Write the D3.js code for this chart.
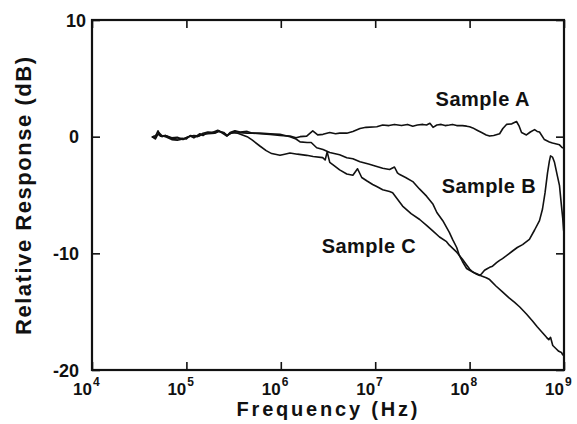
<!DOCTYPE html>
<html>
<head>
<meta charset="utf-8">
<script src="https://cdn.jsdelivr.net/npm/d3@7/dist/d3.min.js"></script>
<style>
  html, body { margin: 0; padding: 0; background: #fff; }
  svg { display: block; }
  text { font-family: "Liberation Sans", Arial, Helvetica, sans-serif; font-weight: bold; fill: #111; }
</style>
</head>
<body>
<svg id="chart" width="577" height="424"></svg>
<script>
// ---- data (frequency in Hz, relative response in dB) ----
const sampleA = [[4.3e4,0.0],[4.6e4,-0.15],[5.0e4,0.5],[5.3e4,0.05],[6.0e4,0.1],[7.0e4,-0.1],[8.0e4,-0.05],[9.2e4,-0.25],[1.0e5,-0.1],[1.1e5,0.05],[1.2e5,-0.1],[1.39e5,0.25],[1.5e5,0.1],[1.65e5,0.35],[1.8e5,0.3],[2.0e5,0.45],[2.15e5,0.55],[2.4e5,0.3],[2.68e5,0.05],[2.9e5,0.35],[3.26e5,0.5],[3.7e5,0.4],[4.4e5,0.45],[5.0e5,0.3],[6.0e5,0.25],[7.7e5,0.2],[9.8e5,0.1],[1.25e6,0.05],[1.45e6,-0.1],[1.6e6,0.0],[1.88e6,0.05],[2.18e6,0.5],[2.46e6,0.15],[2.8e6,0.2],[3.3e6,0.35],[3.8e6,0.25],[4.2e6,0.3],[5.0e6,0.3],[5.8e6,0.45],[6.9e6,0.7],[8.0e6,0.8],[1.04e7,0.85],[1.2e7,1.0],[1.4e7,0.95],[1.6e7,1.05],[1.9e7,0.95],[2.2e7,1.05],[2.5e7,0.9],[2.8e7,1.0],[3.2e7,1.05],[3.5e7,1.0],[3.8e7,1.15],[4.1e7,0.8],[4.5e7,1.0],[5.0e7,1.05],[5.5e7,0.95],[6.1e7,1.0],[6.6e7,1.05],[7.3e7,0.95],[8.4e7,0.95],[9.3e7,0.9],[1.0e8,0.85],[1.08e8,0.75],[1.2e8,0.55],[1.34e8,0.35],[1.5e8,0.15],[1.63e8,0.05],[1.8e8,0.1],[2.08e8,0.25],[2.25e8,0.7],[2.46e8,1.05],[2.8e8,1.1],[3.14e8,1.3],[3.35e8,0.9],[3.55e8,0.35],[4.0e8,0.15],[4.4e8,0.4],[4.88e8,0.6],[5.2e8,0.45],[5.5e8,0.4],[6.2e8,-0.25],[7.0e8,-0.45],[7.55e8,-0.55],[8.96e8,-0.7],[9.6e8,-0.95],[1.0e9,-0.95]];

const sampleB = [[4.3e4,-0.05],[4.6e4,0.05],[5.0e4,0.2],[5.5e4,0.0],[6.0e4,0.1],[7.0e4,-0.15],[8.0e4,-0.2],[9.0e4,-0.15],[1.0e5,-0.2],[1.1e5,0.1],[1.3e5,0.0],[1.5e5,0.2],[1.7e5,0.25],[2.0e5,0.3],[2.2e5,0.45],[2.5e5,0.35],[2.7e5,0.1],[3.0e5,0.3],[3.3e5,0.45],[3.7e5,0.35],[4.4e5,0.3],[5.0e5,0.3],[6.0e5,0.3],[7.7e5,0.25],[9.8e5,0.2],[1.25e6,0.0],[1.45e6,-0.2],[1.6e6,-0.45],[1.9e6,-0.5],[2.1e6,-0.5],[2.4e6,-0.95],[2.8e6,-1.1],[3.3e6,-1.35],[4.2e6,-1.55],[5.0e6,-1.8],[5.8e6,-1.9],[6.9e6,-2.15],[8.5e6,-2.35],[1.04e7,-2.55],[1.2e7,-2.7],[1.42e7,-2.82],[1.6e7,-2.6],[1.72e7,-3.1],[1.82e7,-3.25],[2.1e7,-3.5],[2.5e7,-3.85],[2.96e7,-4.5],[3.5e7,-5.1],[4.1e7,-5.8],[4.5e7,-6.5],[5.2e7,-7.2],[6.1e7,-8.2],[6.6e7,-8.8],[7.3e7,-9.5],[7.8e7,-10.2],[8.4e7,-10.7],[9.3e7,-11.3],[1.0e8,-11.45],[1.08e8,-11.6],[1.13e8,-11.7],[1.19e8,-11.8],[1.28e8,-11.9],[1.34e8,-11.75],[1.44e8,-11.45],[1.55e8,-11.3],[1.63e8,-11.2],[1.75e8,-11.1],[1.93e8,-10.8],[2.08e8,-10.6],[2.23e8,-10.45],[2.46e8,-10.2],[2.85e8,-9.8],[3.2e8,-9.5],[3.64e8,-9.25],[4.3e8,-8.8],[4.88e8,-8.0],[5.5e8,-7.2],[5.92e8,-6.2],[6.3e8,-4.8],[6.69e8,-3.1],[7.0e8,-2.1],[7.2e8,-1.65],[7.55e8,-1.75],[7.93e8,-2.2],[8.53e8,-3.4],[8.96e8,-4.2],[9.41e8,-5.98],[9.7e8,-7.0],[9.9e8,-8.0],[1.0e9,-8.3]];

const sampleC = [[4.4e4,0.05],[4.7e4,-0.2],[5.1e4,0.35],[5.5e4,0.1],[6.2e4,-0.05],[7.0e4,-0.25],[8.0e4,-0.3],[9.2e4,-0.2],[1.05e5,0.0],[1.2e5,0.1],[1.35e5,0.05],[1.5e5,0.3],[1.7e5,0.4],[2.0e5,0.35],[2.2e5,0.5],[2.5e5,0.3],[2.7e5,0.1],[3.0e5,0.35],[3.5e5,0.3],[4.4e5,0.0],[5.0e5,-0.3],[6.0e5,-0.8],[7.0e5,-1.2],[8.0e5,-1.45],[9.8e5,-1.6],[1.1e6,-1.5],[1.25e6,-1.4],[1.5e6,-1.5],[1.88e6,-1.6],[2.2e6,-1.7],[2.78e6,-1.8],[2.95e6,-2.0],[3.1e6,-1.3],[3.3e6,-2.2],[3.7e6,-2.5],[4.2e6,-2.85],[5.0e6,-3.2],[5.8e6,-3.3],[6.5e6,-2.75],[7.2e6,-3.5],[8.2e6,-3.8],[9.4e6,-4.1],[1.05e7,-4.3],[1.2e7,-4.55],[1.42e7,-4.7],[1.53e7,-4.8],[1.7e7,-5.3],[1.95e7,-5.95],[2.4e7,-6.6],[2.96e7,-7.1],[3.5e7,-7.6],[4.1e7,-8.1],[4.8e7,-8.6],[5.7e7,-9.0],[6.1e7,-9.3],[7.3e7,-9.9],[8.4e7,-10.5],[9.3e7,-11.0],[1.0e8,-11.35],[1.08e8,-11.6],[1.19e8,-11.75],[1.34e8,-11.95],[1.5e8,-12.1],[1.63e8,-12.25],[1.9e8,-12.8],[2.23e8,-13.3],[2.6e8,-13.8],[3.0e8,-14.2],[3.4e8,-14.6],[4.0e8,-15.2],[4.64e8,-15.8],[5.2e8,-16.3],[5.92e8,-16.8],[6.53e8,-17.2],[6.9e8,-17.4],[7.2e8,-17.2],[7.6e8,-17.9],[8.3e8,-18.2],[8.8e8,-18.4],[9.4e8,-18.5],[9.7e8,-18.7],[1.0e9,-18.7]];

const xTickExps = [4, 5, 6, 7, 8, 9];
const yTickValues = [10, 0, -10, -20];
const seriesLabels = [
  { name: "Sample A", f: 4.36e7, db: 2.65 },
  { name: "Sample B", f: 5.06e7, db: -4.8 },
  { name: "Sample C", f: 2.72e6, db: -9.95 }
];
const xTitle = "Frequency (Hz)";
const yTitle = "Relative Response (dB)";

// ---- layout ----
const svg = d3.select("#chart");
const L = 92, R = 564, T = 20, B = 370;
const x = d3.scaleLog().domain([1e4, 1e9]).range([L, R]);
const y = d3.scaleLinear().domain([-20, 10]).range([B, T]);

// frame
svg.append("rect").attr("x", L).attr("y", T).attr("width", R - L).attr("height", B - T)
  .attr("fill", "none").attr("stroke", "#111").attr("stroke-width", 2.2);

// ticks (inward), via d3 axes
const tickFmt = () => "";
const xDecades = xTickExps.map(e => Math.pow(10, e));
const bottomAxis = d3.axisBottom(x).tickValues(xDecades).tickSize(-8).tickFormat(tickFmt);
const topAxis = d3.axisTop(x).tickValues(xDecades).tickSize(-8).tickFormat(tickFmt);
const leftAxis = d3.axisLeft(y).tickValues(yTickValues).tickSize(-8).tickFormat(tickFmt);
const rightAxis = d3.axisRight(y).tickValues(yTickValues).tickSize(-8).tickFormat(tickFmt);
[[bottomAxis, `translate(0,${B})`], [topAxis, `translate(0,${T})`],
 [leftAxis, `translate(${L},0)`], [rightAxis, `translate(${R},0)`]].forEach(([ax, tr]) => {
  const g = svg.append("g").attr("transform", tr).call(ax);
  g.select(".domain").remove();
  g.selectAll("line").attr("stroke", "#111").attr("stroke-width", 1.6);
});

// x tick labels 10^n
const xl = svg.append("g");
xTickExps.forEach(e => {
  const t = xl.append("text").attr("x", x(Math.pow(10, e)) - 19).attr("y", 395)
    .attr("font-size", 17);
  t.append("tspan").text("10");
  t.append("tspan").attr("dy", -9).attr("font-size", 12).attr("dx", 1).text(String(e));
});

// y tick labels
svg.append("g").selectAll("text").data(yTickValues).join("text")
  .attr("x", d => d === 10 ? 86 : 79).attr("y", d => y(d) + 6.5)
  .attr("text-anchor", "end").attr("font-size", 18)
  .text(d => String(d));

// axis titles
svg.append("text").attr("x", 327).attr("y", 416).attr("text-anchor", "middle")
  .attr("font-size", 20).attr("textLength", 181).attr("lengthAdjust", "spacing").text(xTitle);
svg.append("text").attr("transform", "translate(31,196) rotate(-90)").attr("text-anchor", "middle")
  .attr("font-size", 22).attr("textLength", 278).attr("lengthAdjust", "spacing").text(yTitle);

// curves
const line = d3.line().x(d => x(d[0])).y(d => y(d[1]));
[sampleA, sampleB, sampleC].forEach(s => {
  svg.append("path").datum(s).attr("d", line)
    .attr("fill", "none").attr("stroke", "#111").attr("stroke-width", 1.6)
    .attr("stroke-linejoin", "round");
});

// series labels
svg.append("g").selectAll("text").data(seriesLabels).join("text")
  .attr("x", d => x(d.f)).attr("y", d => y(d.db))
  .attr("font-size", 20).attr("textLength", 94).attr("lengthAdjust", "spacing")
  .text(d => d.name);
</script>
</body>
</html>
